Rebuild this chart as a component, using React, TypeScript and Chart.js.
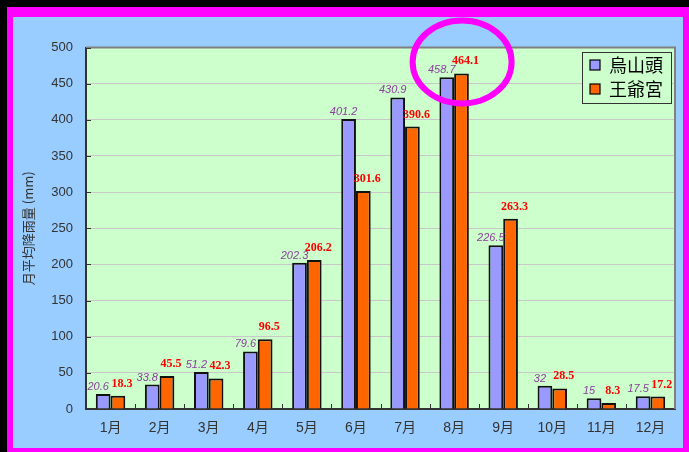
import React, { useEffect, useRef } from 'react';
import { Chart, registerables } from 'chart.js';

Chart.register(...registerables);

const months = ['1月', '2月', '3月', '4月', '5月', '6月', '7月', '8月', '9月', '10月', '11月', '12月'];
const seriesNames = ['烏山頭', '王爺宮'];
const wushantou = [20.6, 33.8, 51.2, 79.6, 202.3, 401.2, 430.9, 458.7, 226.5, 32, 15, 17.5];
const wangyegong = [18.3, 45.5, 42.3, 96.5, 206.2, 301.6, 390.6, 464.1, 263.3, 28.5, 8.3, 17.2];
const yMin = 0;
const yMax = 500;
const yStep = 50;
const yTitle = '月平均降雨量 (mm)';
const highlightIndex = 7;

const colors = ['#9999FF', '#FF6600'];
const labelColors = ['#8A3F9C', '#FF0000'];
const labelFonts = ['italic 11px "Liberation Sans", sans-serif', 'bold 12px "Liberation Serif", serif'];
const labelDx = [-5, 4];
const labelDy = [4, 9];
const CJK = '"Liberation Sans", "Noto Sans CJK TC", sans-serif';

const decorPlugin = {
  id: 'decor',
  beforeDraw(chart: any) {
    const { ctx, width, height, chartArea: ca } = chart;
    ctx.save();
    ctx.fillStyle = '#000000';
    ctx.fillRect(0, 0, width, height);
    ctx.fillStyle = '#FF00FF';
    ctx.fillRect(7, 7, width - 7, height - 7);
    ctx.fillStyle = '#99CCFF';
    ctx.fillRect(13, 17, width - 6 - 13, height - 4 - 17);
    ctx.fillStyle = '#CCFFCC';
    ctx.fillRect(ca.left, ca.top, ca.right - ca.left, ca.bottom - ca.top);
    ctx.restore();
  },
  beforeDatasetsDraw(chart: any) {
    const { ctx, chartArea: ca, scales } = chart;
    ctx.save();
    ctx.strokeStyle = '#808080';
    ctx.lineWidth = 2;
    ctx.beginPath();
    ctx.moveTo(ca.left, ca.top);
    ctx.lineTo(ca.right, ca.top);
    ctx.lineTo(ca.right, ca.bottom);
    ctx.stroke();
    ctx.strokeStyle = '#333333';
    ctx.lineWidth = 1;
    ctx.beginPath();
    for (let v = yMin; v <= yMax; v += yStep) {
      const y = Math.round(scales.y.getPixelForValue(v)) + 0.5;
      ctx.moveTo(ca.left, y);
      ctx.lineTo(ca.left + 5, y);
    }
    const w = (ca.right - ca.left) / months.length;
    for (let i = 1; i < months.length; i++) {
      const x = Math.round(ca.left + i * w) + 0.5;
      ctx.moveTo(x, ca.bottom);
      ctx.lineTo(x, ca.bottom - 5);
    }
    ctx.stroke();
    ctx.restore();
  },
  afterDatasetsDraw(chart: any) {
    const { ctx } = chart;
    ctx.save();
    ctx.textAlign = 'center';
    ctx.textBaseline = 'alphabetic';
    chart.data.datasets.forEach((ds: any, i: number) => {
      const meta = chart.getDatasetMeta(i);
      ctx.font = labelFonts[i];
      ctx.fillStyle = labelColors[i];
      meta.data.forEach((bar: any, j: number) => {
        ctx.fillText(String(ds.data[j]), bar.x + labelDx[i], bar.y - labelDy[i]);
      });
    });
    ctx.restore();
  },
  afterDraw(chart: any) {
    const { ctx, chartArea: ca, scales } = chart;
    ctx.save();
    const lx = ca.right - 93;
    const ly = ca.top + 4.5;
    const lw = 89;
    const lh = 51;
    ctx.fillStyle = '#CCFFCC';
    ctx.fillRect(lx, ly, lw, lh);
    ctx.strokeStyle = '#333333';
    ctx.lineWidth = 1;
    ctx.strokeRect(Math.round(lx) + 0.5, Math.round(ly) + 0.5, lw, lh);
    seriesNames.forEach((name, i) => {
      const sy = ly + 8 + i * 24;
      ctx.fillStyle = colors[i];
      ctx.fillRect(lx + 8, sy, 10, 10);
      ctx.strokeStyle = '#000000';
      ctx.lineWidth = 1.2;
      ctx.strokeRect(lx + 8, sy, 10, 10);
      ctx.fillStyle = '#000000';
      ctx.font = '18px "Noto Sans CJK TC", sans-serif';
      ctx.textAlign = 'left';
      ctx.textBaseline = 'middle';
      ctx.fillText(name, lx + 27, sy + 5);
    });
    const cx = scales.x.getPixelForValue(highlightIndex) + 8;
    const cy = scales.y.getPixelForValue(480);
    ctx.strokeStyle = '#FF00FF';
    ctx.lineWidth = 6;
    ctx.beginPath();
    ctx.ellipse(cx, cy, 49.5, 41.5, 0, 0, Math.PI * 2);
    ctx.stroke();
    ctx.restore();
  },
};

export default function App() {
  const ref = useRef<HTMLCanvasElement | null>(null);
  useEffect(() => {
    if (!ref.current) return;
    const chart = new Chart(ref.current, {
      type: 'bar',
      data: {
        labels: months,
        datasets: [
          {
            label: seriesNames[0],
            data: wushantou,
            backgroundColor: colors[0],
            borderColor: '#111111',
            borderWidth: 2,
            categoryPercentage: 0.6,
            barPercentage: 1.0,
          },
          {
            label: seriesNames[1],
            data: wangyegong,
            backgroundColor: colors[1],
            borderColor: '#111111',
            borderWidth: 2,
            categoryPercentage: 0.6,
            barPercentage: 1.0,
          },
        ],
      },
      options: {
        responsive: false,
        animation: false,
        devicePixelRatio: 1,
        layout: { padding: { left: 0, top: 47.5, right: 14, bottom: 0 } },
        plugins: {
          legend: { display: false },
          tooltip: { enabled: false },
        },
        scales: {
          x: {
            grid: { display: false, drawTicks: false },
            border: { display: true, color: '#333333', width: 2 },
            ticks: { color: '#333333', font: { size: 14, family: CJK }, padding: 11, maxRotation: 0 },
            afterFit: (s: any) => { s.height = 43; },
          },
          y: {
            min: yMin,
            max: yMax,
            grid: { color: '#C8C8C8', lineWidth: 1, drawTicks: false },
            border: { display: true, color: '#333333', width: 2 },
            ticks: { stepSize: yStep, color: '#333333', font: { size: 13, family: CJK }, padding: 13 },
            title: {
              display: true,
              text: yTitle,
              color: '#333333',
              font: { size: 13, family: '"Noto Sans CJK TC", sans-serif' },
              padding: { top: 20, bottom: 0 },
            },
            afterFit: (s: any) => { s.width = 86; },
          },
        },
      },
      plugins: [decorPlugin],
    });
    return () => chart.destroy();
  }, []);
  return (
    <div style={{ position: 'fixed', left: 0, top: 0, width: 689, height: 452 }}>
      <canvas ref={ref} width={689} height={452} />
    </div>
  );
}
